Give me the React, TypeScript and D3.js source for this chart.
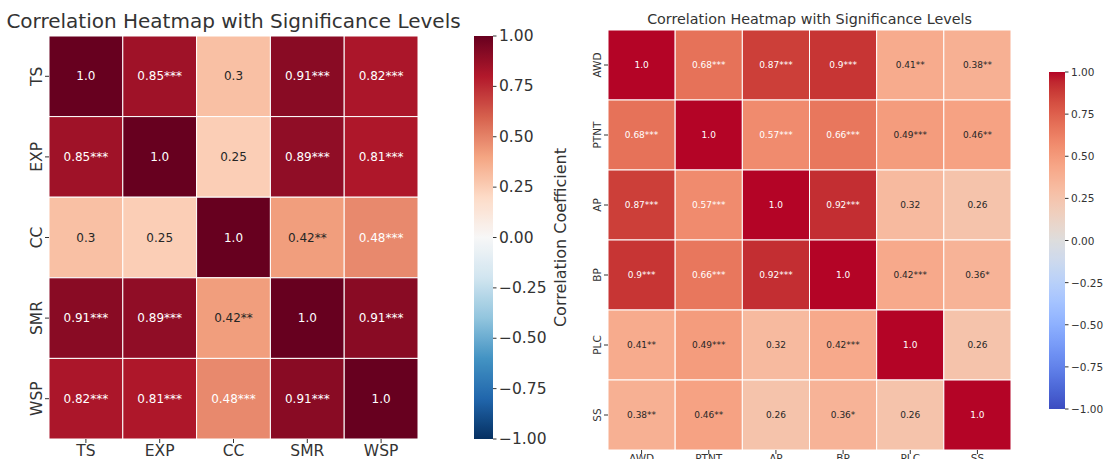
import React from "react";
import * as d3 from "d3";

// Left panel: climate / vegetation variables
const leftVars = ["TS", "EXP", "CC", "SMR", "WSP"];
const leftValues = [
  [1.0, 0.85, 0.3, 0.91, 0.82],
  [0.85, 1.0, 0.25, 0.89, 0.81],
  [0.3, 0.25, 1.0, 0.42, 0.48],
  [0.91, 0.89, 0.42, 1.0, 0.91],
  [0.82, 0.81, 0.48, 0.91, 1.0],
];
const leftStars = [
  ["", "***", "", "***", "***"],
  ["***", "", "", "***", "***"],
  ["", "", "", "**", "***"],
  ["***", "***", "**", "", "***"],
  ["***", "***", "***", "***", ""],
];

// Right panel: physiological variables
const rightVars = ["AWD", "PTNT", "AP", "BP", "PLC", "SS"];
const rightValues = [
  [1.0, 0.68, 0.87, 0.9, 0.41, 0.38],
  [0.68, 1.0, 0.57, 0.66, 0.49, 0.46],
  [0.87, 0.57, 1.0, 0.92, 0.32, 0.26],
  [0.9, 0.66, 0.92, 1.0, 0.42, 0.36],
  [0.41, 0.49, 0.32, 0.42, 1.0, 0.26],
  [0.38, 0.46, 0.26, 0.36, 0.26, 1.0],
];
const rightStars = [
  ["", "***", "***", "***", "**", "**"],
  ["***", "", "***", "***", "***", "**"],
  ["***", "***", "", "***", "", ""],
  ["***", "***", "***", "", "***", "*"],
  ["**", "***", "", "***", "", ""],
  ["**", "**", "", "*", "", ""],
];

const colorbarTicks = [1.0, 0.75, 0.5, 0.25, 0.0, -0.25, -0.5, -0.75, -1.0];

// ColorBrewer RdBu, reversed (low = blue, high = red)
const rdbuR = [
  "#053061", "#2166ac", "#4393c3", "#92c5de", "#d1e5f0", "#f7f7f7",
  "#fddbc7", "#f4a582", "#d6604d", "#b2182b", "#67001f",
];
// Moreland cool-warm diverging map
const coolwarmRGB = [
  [59, 76, 192], [68, 90, 204], [77, 104, 215], [87, 117, 225], [98, 130, 234],
  [108, 142, 241], [119, 154, 247], [130, 165, 251], [141, 176, 254], [152, 185, 255],
  [163, 194, 255], [174, 201, 253], [184, 208, 249], [194, 213, 244], [204, 217, 238],
  [213, 219, 230], [221, 221, 221], [229, 216, 209], [236, 211, 197], [241, 204, 185],
  [245, 196, 173], [247, 187, 160], [247, 177, 148], [247, 166, 135], [244, 154, 123],
  [241, 141, 111], [236, 127, 99], [229, 112, 88], [222, 96, 77], [213, 80, 66],
  [203, 62, 56], [192, 40, 47], [180, 4, 38],
];

function piecewise(colors: string[]) {
  const dom = colors.map((_, i) => -1 + (2 * i) / (colors.length - 1));
  return d3
    .scaleLinear<string>()
    .domain(dom)
    .range(colors)
    .interpolate(d3.interpolateRgb)
    .clamp(true);
}

const rdbuScale = piecewise(rdbuR);
const coolwarmScale = piecewise(coolwarmRGB.map(([r, g, b]) => d3.rgb(r, g, b).formatHex()));

function luminance(c: string) {
  const rgb = d3.rgb(c);
  const lin = (v: number) => {
    const s = v / 255;
    return s <= 0.03928 ? s / 12.92 : Math.pow((s + 0.055) / 1.055, 2.4);
  };
  return 0.2126 * lin(rgb.r) + 0.7152 * lin(rgb.g) + 0.0722 * lin(rgb.b);
}

const FONT = "DejaVu Sans, Verdana, sans-serif";
const TEXT = "#333333";

type PanelProps = {
  id: string;
  vars: string[];
  values: number[][];
  stars: string[][];
  color: (v: number) => string;
  x0: number; x1: number; y0: number; y1: number;
  title: string; titleSize: number; titleY: number;
  tickSize: number; annotSize: number; xLabelGap: number;
  cb: { x: number; w: number; y0: number; y1: number; tickSize: number; label?: string; labelSize?: number; labelX?: number };
};

function Panel(p: PanelProps) {
  const x = d3.scaleBand<string>().domain(p.vars).range([p.x0, p.x1]);
  const y = d3.scaleBand<string>().domain(p.vars).range([p.y0, p.y1]);
  const cy = d3.scaleLinear().domain([-1, 1]).range([p.cb.y1, p.cb.y0]);
  const stops = d3.range(0, 101).map((i) => i / 100);
  const gid = `grad-${p.id}`;
  return (
    <g>
      <defs>
        <linearGradient id={gid} x1="0" y1="1" x2="0" y2="0">
          {stops.map((s) => (
            <stop key={s} offset={s} stopColor={p.color(-1 + 2 * s)} />
          ))}
        </linearGradient>
      </defs>
      <text
        x={(p.x0 + p.x1) / 2}
        y={p.titleY}
        textAnchor="middle"
        fontSize={p.titleSize}
        fill={TEXT}
        fontFamily={FONT}
      >
        {p.title}
      </text>
      {p.values.map((row, i) =>
        row.map((v, j) => {
          const fill = p.color(v);
          const tc = luminance(fill) > 0.408 ? "#262626" : "#ffffff";
          const label = `${Number.isInteger(v) ? v.toFixed(1) : String(v)}${p.stars[i][j]}`;
          return (
            <g key={`${i}-${j}`}>
              <rect
                x={x(p.vars[j])!}
                y={y(p.vars[i])!}
                width={x.bandwidth()}
                height={y.bandwidth()}
                fill={fill}
                stroke="#ffffff"
                strokeWidth={1}
              />
              <text
                x={x(p.vars[j])! + x.bandwidth() / 2}
                y={y(p.vars[i])! + y.bandwidth() / 2}
                textAnchor="middle"
                dominantBaseline="central"
                fontSize={p.annotSize}
                fill={tc}
                fontFamily={FONT}
              >
                {label}
              </text>
            </g>
          );
        })
      )}
      {/* y axis */}
      {p.vars.map((v) => {
        const yc = y(v)! + y.bandwidth() / 2;
        return (
          <g key={`y-${v}`}>
            <line x1={p.x0 - 4} x2={p.x0} y1={yc} y2={yc} stroke={TEXT} strokeWidth={1} />
            <text
              transform={`translate(${p.x0 - 7},${yc}) rotate(-90)`}
              textAnchor="middle"
              fontSize={p.tickSize}
              fill={TEXT}
              fontFamily={FONT}
            >
              {v}
            </text>
          </g>
        );
      })}
      {/* x axis */}
      {p.vars.map((v) => {
        const xc = x(v)! + x.bandwidth() / 2;
        return (
          <g key={`x-${v}`}>
            <line x1={xc} x2={xc} y1={p.y1} y2={p.y1 + 4} stroke={TEXT} strokeWidth={1} />
            <text
              x={xc}
              y={p.y1 + p.xLabelGap}
              textAnchor="middle"
              dominantBaseline="hanging"
              fontSize={p.tickSize}
              fill={TEXT}
              fontFamily={FONT}
            >
              {v}
            </text>
          </g>
        );
      })}
      {/* colorbar */}
      <rect x={p.cb.x} y={p.cb.y0} width={p.cb.w} height={p.cb.y1 - p.cb.y0} fill={`url(#${gid})`} />
      {colorbarTicks.map((t) => (
        <g key={`cb-${t}`}>
          <line
            x1={p.cb.x + p.cb.w}
            x2={p.cb.x + p.cb.w + 3.5}
            y1={cy(t)}
            y2={cy(t)}
            stroke={TEXT}
            strokeWidth={1}
          />
          <text
            x={p.cb.x + p.cb.w + 6}
            y={cy(t)}
            dominantBaseline="central"
            fontSize={p.cb.tickSize}
            fill={TEXT}
            fontFamily={FONT}
          >
            {(t < 0 ? "\u2212" : "") + Math.abs(t).toFixed(2)}
          </text>
        </g>
      ))}
      {p.cb.label && (
        <text
          transform={`translate(${p.cb.labelX},${(p.cb.y0 + p.cb.y1) / 2}) rotate(-90)`}
          textAnchor="middle"
          fontSize={p.cb.labelSize}
          fill={TEXT}
          fontFamily={FONT}
        >
          {p.cb.label}
        </text>
      )}
    </g>
  );
}

export default function App() {
  return (
    <svg
      width={1104}
      height={459}
      style={{ position: "absolute", left: 0, top: 0, background: "#ffffff", display: "block" }}
    >
      <rect x={0} y={0} width={1104} height={459} fill="#ffffff" />
      <Panel
        id="left"
        vars={leftVars}
        values={leftValues}
        stars={leftStars}
        color={rdbuScale}
        x0={49} x1={418} y0={36} y1={439}
        title="Correlation Heatmap with Significance Levels"
        titleSize={20}
        titleY={28}
        tickSize={15.5}
        annotSize={12}
        xLabelGap={6}
        cb={{ x: 474, w: 19, y0: 36, y1: 439, tickSize: 15.5, label: "Correlation Coefficient", labelSize: 16, labelX: 566 }}
      />
      <Panel
        id="right"
        vars={rightVars}
        values={rightValues}
        stars={rightStars}
        color={coolwarmScale}
        x0={608} x1={1011} y0={30} y1={450}
        title="Correlation Heatmap with Significance Levels"
        titleSize={14.3}
        titleY={24}
        tickSize={10.5}
        annotSize={9}
        xLabelGap={4}
        cb={{ x: 1049, w: 16, y0: 72, y1: 409, tickSize: 10.5 }}
      />
    </svg>
  );
}
